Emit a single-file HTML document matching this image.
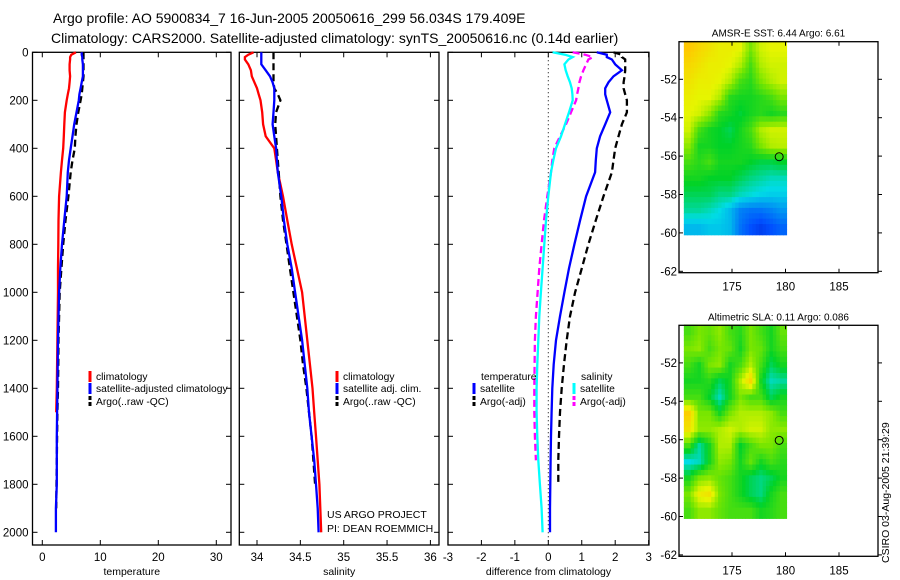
<!DOCTYPE html>
<html><head><meta charset="utf-8"><style>
html,body{margin:0;padding:0;background:#fff;}
svg{display:block;font-family:"Liberation Sans",sans-serif;}
text{fill:#000;}
</style></head><body>
<svg id="fig" width="900" height="580" viewBox="0 0 900 580">
<text x="53" y="23" font-size="14">Argo profile: AO 5900834_7 16-Jun-2005 20050616_299 56.034S 179.409E</text>
<text x="51" y="43" font-size="14">Climatology: CARS2000. Satellite-adjusted climatology: synTS_20050616.nc (0.14d earlier)</text>
<g id="g1"></g>
<g id="g2"></g>
<g id="g3"></g>
<g id="m1"></g>
<g id="m2"></g>
<text x="327" y="518" font-size="10.5">US ARGO PROJECT</text>
<text x="327" y="532" font-size="10.5">PI: DEAN ROEMMICH</text>
<text transform="translate(889,563) rotate(-90)" font-size="10.5">CSIRO 03-Aug-2005 21:39:29</text>
</svg>
<script>
const depths=[0,10,20,30,50,75,100,125,150,175,200,250,300,350,400,450,500,600,700,800,900,1000,1100,1200,1300,1400,1500,1600,1700,1800,1900,2000];
const tempClim=[5.8,5.0,4.8,4.8,4.7,4.7,4.8,4.7,4.6,4.4,4.2,3.9,3.8,3.7,3.6,3.4,3.2,2.9,2.8,2.75,2.7,2.7,2.65,2.6,2.55,2.5,2.4,null,null,null,null,null];
const tempSat=[6.8,6.8,6.9,6.9,7.0,7.0,7.0,6.8,6.6,6.4,6.3,5.9,5.5,5.2,4.9,4.6,4.4,4.2,3.8,3.4,3.1,2.9,2.8,2.7,2.65,2.6,2.55,2.5,2.5,2.5,2.35,2.35];
const tempArgo=[7.1,7.1,7.1,7.1,7.1,7.1,7.1,7.0,6.9,6.8,6.6,6.2,5.9,5.7,5.6,5.2,4.9,4.5,4.0,3.6,3.3,3.0,2.9,2.8,2.75,2.7,2.6,2.55,2.5,2.45,2.4,null];
const salClim=[33.96,33.9,33.86,33.86,33.9,33.93,33.94,33.97,34.0,34.02,34.04,34.06,34.07,34.1,34.2,34.22,34.24,34.30,34.35,34.40,34.46,34.52,34.55,34.58,34.61,34.64,34.66,34.68,34.70,34.72,34.73,34.74];
const salSat=[34.05,34.05,34.05,34.05,34.05,34.1,34.15,34.18,34.2,34.2,34.2,34.19,34.18,34.2,34.22,34.23,34.24,34.28,34.31,34.35,34.4,34.44,34.48,34.52,34.55,34.58,34.6,34.63,34.66,34.68,34.7,34.71];
const salArgo=[34.19,34.19,34.19,34.19,34.19,34.19,34.19,34.19,34.2,34.24,34.27,34.22,34.21,34.22,34.23,34.24,34.25,34.27,34.3,34.34,34.38,34.42,34.46,34.5,34.53,34.57,34.6,34.63,34.65,34.67,null,null];
const dTempSat=[1.45,1.75,1.75,1.9,2.0,2.2,1.95,1.8,1.7,1.7,1.75,1.85,1.7,1.55,1.45,1.42,1.4,1.13,0.95,0.78,0.62,0.48,0.35,0.23,0.16,0.12,0.1,0.08,0.07,0.06,0.05,0.05];
const dTempArgo=[1.95,2.2,2.2,2.3,2.3,2.3,2.28,2.25,2.25,2.3,2.35,2.35,2.2,2.1,2.0,1.95,1.9,1.65,1.42,1.2,1.0,0.8,0.65,0.55,0.47,0.4,0.35,0.32,0.3,0.3,null,null];
const dSalSat=[0.13,0.5,0.73,0.6,0.48,0.52,0.58,0.65,0.7,0.72,0.73,0.62,0.5,0.38,0.23,0.15,0.08,0.0,-0.07,-0.12,-0.17,-0.22,-0.27,-0.3,-0.33,-0.35,-0.35,-0.33,-0.3,-0.25,-0.2,-0.17];
const dSalArgo=[0.73,1.1,1.33,1.2,1.13,1.05,0.98,0.93,0.9,0.86,0.83,0.68,0.53,0.35,0.18,0.12,0.08,-0.03,-0.13,-0.2,-0.27,-0.32,-0.37,-0.4,-0.41,-0.42,-0.42,-0.4,-0.37,null,null,null];
const depthTicks=[0,200,400,600,800,1000,1200,1400,1600,1800,2000];
const tempTicks=[0,10,20,30];
const salTicks=[34,34.5,35,35.5,36];
const salTickLabels=["34","34.5","35","35.5","36"];
const diffTicks=[-3,-2,-1,0,1,2,3];
const lonTicks=[175,180,185];
const latTicks=[-52,-54,-56,-58,-60,-62];
const sstGrid=[
[.82,.78,.75,.72,.72,.70,.60,.68,.70,.70],
[.78,.75,.72,.72,.70,.65,.55,.65,.68,.68],
[.75,.72,.72,.70,.65,.55,.52,.60,.65,.68],
[.72,.70,.70,.65,.52,.50,.50,.52,.55,.60],
[.70,.68,.62,.52,.50,.47,.50,.52,.50,.52],
[.68,.55,.50,.48,.45,.50,.55,.65,.68,.68],
[.62,.50,.50,.48,.48,.50,.52,.60,.65,.66],
[.55,.52,.55,.50,.50,.50,.48,.46,.46,.48],
[.50,.50,.48,.48,.48,.45,.42,.40,.38,.38],
[.45,.45,.45,.42,.42,.38,.36,.34,.33,.33],
[.40,.40,.38,.35,.30,.22,.20,.20,.22,.25],
[.30,.30,.32,.32,.30,.20,.15,.12,.15,.18]];
const slaGrid=[
[.55,.6,.58,.62,.55,.52,.6,.55,.5,.58],
[.6,.62,.55,.6,.58,.5,.6,.58,.5,.55],
[.55,.5,.6,.62,.5,.55,.65,.55,.45,.5],
[.5,.5,.52,.45,.5,.65,.78,.5,.38,.4],
[.55,.55,.48,.38,.5,.6,.55,.55,.45,.5],
[.8,.6,.6,.5,.6,.65,.65,.65,.62,.55],
[.75,.62,.62,.65,.68,.65,.68,.68,.62,.62],
[.55,.4,.5,.65,.65,.48,.55,.6,.6,.55],
[.35,.38,.5,.62,.6,.5,.58,.5,.55,.52],
[.5,.6,.62,.58,.55,.5,.45,.42,.45,.5],
[.6,.72,.75,.6,.55,.5,.45,.42,.5,.55],
[.55,.62,.62,.58,.55,.55,.55,.5,.52,.55]];
const argoLon=179.409, argoLat=-56.034;

const NS="http://www.w3.org/2000/svg";
function mk(parent,tag,attrs){const e=document.createElementNS(NS,tag);for(const k in attrs)e.setAttribute(k,attrs[k]);parent.appendChild(e);return e;}
const yD=d=>52.3+d*0.24;
function frame(g,x0,x1,y0,y1){
  const r=mk(g,'rect',{x:x0,y:y0,width:x1-x0,height:y1-y0,fill:'none',stroke:'#000','stroke-width':1.3});
  
  
}
function txt(g,x,y,s,anchor,size,name){
  const t=mk(g,'text',{x:x,y:y,'font-size':size||12,'text-anchor':anchor||'start'});t.textContent=s;
  
  
  return t;
}
function line(g,xs,ys,color,dash,name){
  let d='',pen=false;
  for(let i=0;i<xs.length;i++){
    if(xs[i]===null||xs[i]===undefined){pen=false;continue;}
    d+=(pen?'L':'M')+xs[i].toFixed(1)+' '+ys[i].toFixed(1);pen=true;
  }
  const p=mk(g,'path',{d:d,fill:'none',stroke:color,'stroke-width':2.3,'stroke-dasharray':dash||'none'});
  
  
}
function profilePanel(g,x0,x1,fx,xticks,xlabels,xtitle,yLabels){
  const y0=52.3,y1=545;
  frame(g,x0,x1,y0,y1);
  depthTicks.forEach(d=>{
    const y=yD(d);
    mk(g,'line',{x1:x0,x2:x0+5,y1:y,y2:y,stroke:'#000'});
    mk(g,'line',{x1:x1-5,x2:x1,y1:y,y2:y,stroke:'#000'});
    if(yLabels) txt(g,x0-4,y+4,String(d),'end',11.5,'depth-tick-label');
  });
  xticks.forEach((v,i)=>{
    const x=fx(v);
    mk(g,'line',{x1:x,x2:x,y1:y1,y2:y1-5,stroke:'#000'});
    mk(g,'line',{x1:x,x2:x,y1:y0,y2:y0+5,stroke:'#000'});
    txt(g,x,y1+16,xlabels[i],'middle',11.5,'x-tick-label');
  });
  txt(g,(x0+x1)/2,y1+30,xtitle,'middle',10.5,'x-axis-title');
}
function legendEntry(g,x,y,color,dash,label){
  const l=mk(g,'line',{x1:x,x2:x,y1:y-9,y2:y+2,stroke:color,'stroke-width':3,'stroke-dasharray':dash||'none'});
  
  
  if(label) txt(g,x+6,y,label,'start',10.3,'legend-entry');
}
const ys=depths.map(yD);
const g1=document.getElementById('g1');
const fT=v=>42.3+v*5.8;
profilePanel(g1,32.5,231,fT,tempTicks,tempTicks.map(String),'temperature',true);
line(g1,tempClim.map(v=>v===null?null:fT(v)),ys,'#ff0000',null,'temp-climatology-line');
line(g1,tempArgo.map(v=>v===null?null:fT(v)),ys,'#000000','7 4','temp-argo-line');
line(g1,tempSat.map(v=>v===null?null:fT(v)),ys,'#0000ff',null,'temp-satellite-line');
legendEntry(g1,90,380,'#f00',null,'climatology');
legendEntry(g1,90,392,'#00f',null,'satellite-adjusted climatology');
legendEntry(g1,90,405,'#000','4 2','Argo(..raw -QC)');
const g2=document.getElementById('g2');
const fS=v=>257+(v-34)*86.7;
profilePanel(g2,239.3,439,fS,salTicks,salTickLabels,'salinity',false);
line(g2,salClim.map(v=>v===null?null:fS(v)),ys,'#ff0000',null,'sal-climatology-line');
line(g2,salArgo.map(v=>v===null?null:fS(v)),ys,'#000000','7 4','sal-argo-line');
line(g2,salSat.map(v=>v===null?null:fS(v)),ys,'#0000ff',null,'sal-satellite-line');
legendEntry(g2,337,380,'#f00',null,'climatology');
legendEntry(g2,337,392,'#00f',null,'satellite adj. clim.');
legendEntry(g2,337,405,'#000','4 2','Argo(..raw -QC)');
const g3=document.getElementById('g3');
const fD=v=>548.3+v*33.45;
profilePanel(g3,448,649,fD,diffTicks,diffTicks.map(String),'difference from climatology',false);
const z=mk(g3,'line',{x1:fD(0),x2:fD(0),y1:52.3,y2:545,stroke:'#000','stroke-dasharray':'1 3'});


line(g3,dTempArgo.map(v=>v===null?null:fD(v)),ys,'#000000','7 4','diff-temp-argo-line');
line(g3,dTempSat.map(v=>v===null?null:fD(v)),ys,'#0000ff',null,'diff-temp-satellite-line');
line(g3,dSalArgo.map(v=>v===null?null:fD(v)),ys,'#ff00ff','7 4','diff-sal-argo-line');
line(g3,dSalSat.map(v=>v===null?null:fD(v)),ys,'#00ffff',null,'diff-sal-satellite-line');
txt(g3,481,380,'temperature','start',10.3,'legend-title-temperature');
legendEntry(g3,474,392,'#00f',null,'satellite');
legendEntry(g3,474,405,'#000','4 2','Argo(-adj)');
txt(g3,581,380,'salinity','start',10.3,'legend-title-salinity');
legendEntry(g3,574,392,'#0ff',null,'satellite');
legendEntry(g3,574,405,'#f0f','4 2','Argo(-adj)');
function cmap(v){
  const stops=[[0,[0,0,180]],[0.15,[0,80,255]],[0.35,[0,220,230]],[0.48,[0,210,40]],[0.6,[120,230,0]],[0.7,[230,245,0]],[0.82,[255,200,0]],[0.95,[240,100,0]]];
  for(let i=1;i<stops.length;i++){if(v<=stops[i][0]){const a=stops[i-1],b=stops[i],t=(v-a[0])/(b[0]-a[0]);return 'rgb('+a[1].map((c,k)=>Math.round(c+(b[1][k]-c)*t)).join(',')+')';}}
  return 'rgb(240,100,0)';
}
function sample(grid,fr,fc){
  const R=grid.length,C=grid[0].length;
  const r=Math.min(Math.max(fr-0.5,0),R-1),c=Math.min(Math.max(fc-0.5,0),C-1);
  const r0=Math.floor(r),c0=Math.floor(c),r1=Math.min(r0+1,R-1),c1=Math.min(c0+1,C-1);
  const tr=r-r0,tc=c-c0;
  return grid[r0][c0]*(1-tr)*(1-tc)+grid[r0][c1]*(1-tr)*tc+grid[r1][c0]*tr*(1-tc)+grid[r1][c1]*tr*tc;
}
function map(id,top,grid,title){
  const g=document.getElementById(id);
  const x0=679,x1=878,bottom=top+231;
  const lat52=top+37.6;
  const fx=lon=>732+(lon-175)*10.7;
  const fy=lat=>lat52+(-52-lat)*19.2;
  const rows=grid.length,cols=grid[0].length;
  const lonA=170.5,lonB=180.1,latA=-50,latB=-60.1;
  const S=3;
  const nr=rows*S,nc=cols*S;
  const cw=(fx(lonB)-fx(lonA))/nc,ch=(fy(latB)-fy(latA))/nr;
  for(let r=0;r<nr;r++)for(let c=0;c<nc;c++){
    const v=sample(grid,(r+0.5)/S,(c+0.5)/S);
    const rc=mk(g,'rect',{x:(fx(lonA)+c*cw).toFixed(2),y:(fy(latA)+r*ch).toFixed(2),width:(cw+0.5).toFixed(2),height:(ch+0.5).toFixed(2),fill:cmap(v)});
    
    
  }
  frame(g,x0,x1,top,bottom);
  lonTicks.forEach(l=>{const x=fx(l);mk(g,'line',{x1:x,x2:x,y1:bottom,y2:bottom-4,stroke:'#000'});mk(g,'line',{x1:x,x2:x,y1:top,y2:top+4,stroke:'#000'});txt(g,x,bottom+18,String(l),'middle',11.5,'lon-tick-label');});
  latTicks.forEach(l=>{const y=fy(l);mk(g,'line',{x1:x0,x2:x0+4,y1:y,y2:y,stroke:'#000'});mk(g,'line',{x1:x1,x2:x1+4,y1:y,y2:y,stroke:'#000'});txt(g,x0-2,y+4,String(l),'end',11.5,'lat-tick-label');});
  txt(g,(x0+x1)/2,top-5,title,'middle',10,'map-title');
  const c=mk(g,'circle',{cx:fx(argoLon),cy:fy(argoLat),r:4,fill:'none',stroke:'#000','stroke-width':1});
  
  
}
map('m1',41.7,sstGrid,'AMSR-E SST: 6.44 Argo: 6.61');
map('m2',325.3,slaGrid,'Altimetric SLA: 0.11 Argo: 0.086');
</script>
</body></html>
